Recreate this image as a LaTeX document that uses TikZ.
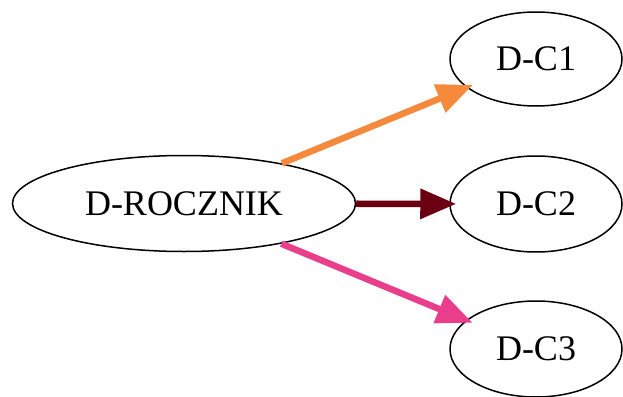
\documentclass[tikz,border=0pt]{standalone}
\usepackage{fontspec}
\setmainfont{Liberation Serif}
\usetikzlibrary{shapes.geometric,arrows.meta}
\definecolor{corange}{HTML}{F58A3C}
\definecolor{cdred}{HTML}{6B0012}
\definecolor{cpink}{HTML}{E83E8C}
\tikzset{
  nd/.style={draw=black, line width=1.5pt, ellipse, inner sep=0pt, font=\fontsize{36}{40}\selectfont},
  edge/.style={line width=6.5pt, -{Triangle[length=36pt,width=29pt]}, shorten >=-7pt},
}
\begin{document}
\begin{tikzpicture}[x=1pt,y=-1pt]
\useasboundingbox (0,0) rectangle (623,396);
\node[nd, minimum width=343pt, minimum height=96pt] (r) at (184,203.5) {D-ROCZNIK};
\node[nd, minimum width=172pt, minimum height=94pt] (c1) at (536,59) {D-C1};
\node[nd, minimum width=172pt, minimum height=96pt] (c2) at (536,204) {D-C2};
\node[nd, minimum width=172pt, minimum height=96pt] (c3) at (536,349) {D-C3};
\draw[edge, corange] (r) -- (c1);
\draw[edge, cdred] (r) -- (c2);
\draw[edge, cpink] (r) -- (c3);
\end{tikzpicture}
\end{document}
